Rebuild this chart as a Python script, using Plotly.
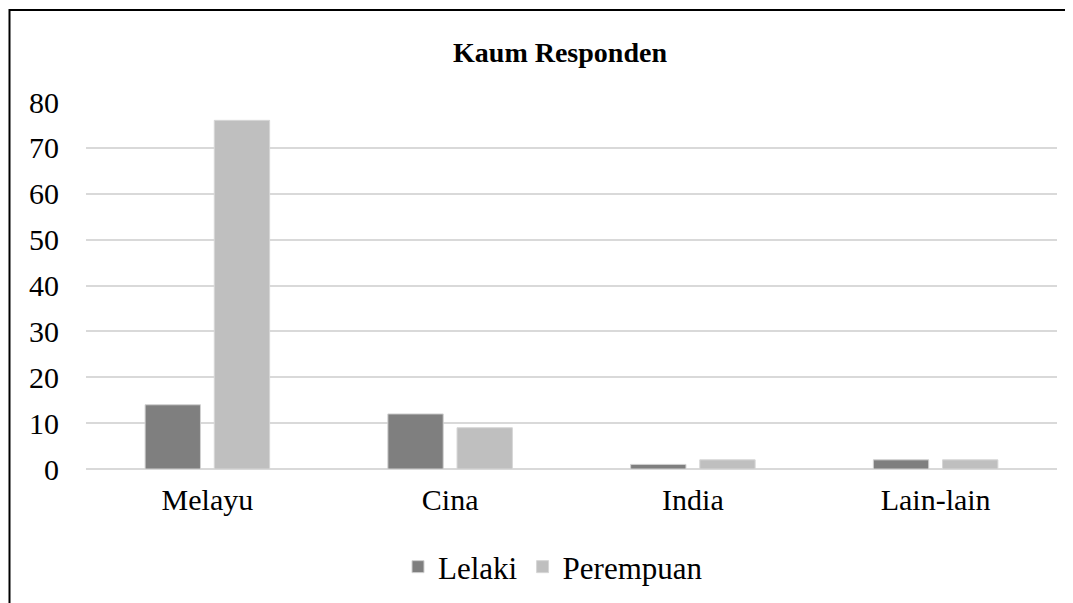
import plotly.graph_objects as go

categories = ["Melayu", "Cina", "India", "Lain-lain"]
lelaki = [14, 12, 1, 2]
perempuan = [76, 9, 2, 2]
y_ticks = [0, 10, 20, 30, 40, 50, 60, 70, 80]

W, H = 1073, 603
O = 8  # page body offset
# desired on-screen plot area
SX0, SX1, SY0, SY1 = 86, 1057, 102, 469
L, T = SX0 - O, SY0 - O
R, B = W - (SX1 - O), H - (SY1 - O)
pw, ph = W - L - R, H - T - B

FONT = "Liberation Serif, Times New Roman, serif"

fig = go.Figure()
fig.add_trace(go.Bar(name="Lelaki", x=categories, y=lelaki,
                     marker=dict(color="#7f7f7f", line=dict(color="#d0d0d0", width=1))))
fig.add_trace(go.Bar(name="Perempuan", x=categories, y=perempuan,
                     marker=dict(color="#bfbfbf", line=dict(color="#d6d6d6", width=1))))

def px_x(p):
    return (p - SX0) / pw

def px_y(p):
    return (SY1 - p) / ph

fig.update_layout(
    width=W, height=H,
    margin=dict(l=L, r=R, t=T, b=B, pad=0),
    paper_bgcolor="white", plot_bgcolor="white",
    barmode="group", bargap=0.43, bargroupgap=0.2,
    font=dict(family=FONT, color="#000000", size=30),
    title=dict(text="<b>Kaum Responden</b>", x=(560 - O) / W, xref="container",
               y=1 - (52 - O) / H, yref="container", yanchor="middle", xanchor="center",
               font=dict(family=FONT, size=28, color="#000000")),
    xaxis=dict(showgrid=False, showline=False, zeroline=False,
               ticks="", tickfont=dict(family=FONT, size=30, color="#000000"),
               ticklabelstandoff=10),
    yaxis=dict(range=[0, 80], tickvals=y_ticks, showgrid=True,
               gridcolor="#d9d9d9", gridwidth=2, zeroline=True,
               zerolinecolor="#d9d9d9", zerolinewidth=2, showline=False,
               ticks="", tickfont=dict(family=FONT, size=30, color="#000000"),
               ticklabelstandoff=26),
    legend=dict(orientation="h", x=px_x(553), xanchor="center",
                y=px_y(567), yanchor="middle",
                font=dict(family=FONT, size=31, color="#000000"),
                itemwidth=30, traceorder="normal", bgcolor="rgba(0,0,0,0)"),
    showlegend=True,
    shapes=[
        dict(type="line", xref="paper", yref="paper",
             x0=px_x(9.5), x1=px_x(W + 20), y0=px_y(10), y1=px_y(10),
             line=dict(color="black", width=2)),
        dict(type="line", xref="paper", yref="paper",
             x0=px_x(9.5), x1=px_x(9.5), y0=px_y(9), y1=px_y(H + 20),
             line=dict(color="black", width=2)),
    ],
)

fig.write_html("out.html")
